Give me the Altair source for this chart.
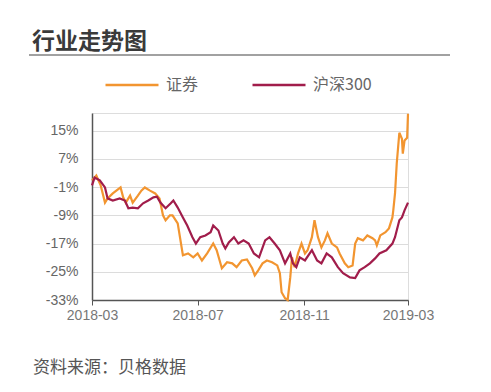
import altair as alt
import pandas as pd

# 证券 series (date, % change)
zq_dates = ["2018-03-01","2018-03-06","2018-03-11","2018-03-16","2018-03-19","2018-03-25",
            "2018-04-03","2018-04-06","2018-04-09","2018-04-14","2018-04-17","2018-04-23",
            "2018-04-27","2018-05-01","2018-05-07","2018-05-13","2018-05-18","2018-05-22",
            "2018-05-25","2018-05-30","2018-06-02","2018-06-08","2018-06-14","2018-06-20",
            "2018-06-26","2018-07-01","2018-07-06","2018-07-12","2018-07-19","2018-07-23",
            "2018-07-29","2018-08-04","2018-08-10","2018-08-15","2018-08-21","2018-08-27",
            "2018-09-02","2018-09-05","2018-09-09","2018-09-14","2018-09-19","2018-09-25",
            "2018-10-01","2018-10-04","2018-10-06","2018-10-10","2018-10-13","2018-10-16",
            "2018-10-18","2018-10-21","2018-10-25","2018-10-29","2018-11-02","2018-11-05",
            "2018-11-10","2018-11-13","2018-11-17","2018-11-21","2018-11-25","2018-11-28",
            "2018-12-03","2018-12-09","2018-12-12","2018-12-18","2018-12-22","2018-12-27",
            "2018-12-30","2019-01-02","2019-01-08","2019-01-13","2019-01-19","2019-01-22",
            "2019-01-24","2019-01-28","2019-02-03","2019-02-07","2019-02-11","2019-02-12",
            "2019-02-14","2019-02-16","2019-02-19","2019-02-22","2019-02-23","2019-02-25",
            "2019-02-28","2019-03-01"]
zq_values = [0.9, 2.3, -0.5, -5.4, -4.2, -2.8,
             -1.1, -3.9, -5.4, -3.4, -5.4, -3.4,
             -2.0, -1.1, -2.0, -2.8, -4.2, -9.0,
             -10.4, -9.0, -9.0, -11.3, -20.3, -19.8,
             -20.9, -19.8, -21.8, -19.8, -17.0, -18.9,
             -24.0, -22.3, -22.6, -23.7, -21.8, -21.5,
             -24.0, -26.0, -24.6, -22.6, -21.8, -22.3,
             -23.2, -25.4, -30.8, -32.5, -33.0, -26.6,
             -20.9, -23.7, -19.8, -17.0, -19.8, -18.9,
             -15.2, -10.4, -15.2, -18.1, -16.1, -14.1,
             -17.0, -18.1, -19.8, -22.6, -23.7, -23.2,
             -17.0, -15.5, -16.1, -14.7, -15.5, -16.1,
             -17.5, -14.7, -13.8, -12.7, -9.6, -7.6,
             -2.8, 5.7, 14.4, 12.7, 8.5, 12.2,
             13.0, 19.8]

# 沪深300 series (date, % change)
hs_dates = ["2018-03-01","2018-03-04","2018-03-10","2018-03-16","2018-03-19","2018-03-25",
            "2018-04-02","2018-04-08","2018-04-12","2018-04-17","2018-04-23","2018-04-29",
            "2018-05-05","2018-05-11","2018-05-15","2018-05-19","2018-05-25","2018-05-31",
            "2018-06-03","2018-06-08","2018-06-14","2018-06-19","2018-06-25","2018-06-29",
            "2018-07-04","2018-07-10","2018-07-16","2018-07-19","2018-07-25","2018-07-30",
            "2018-08-02","2018-08-06","2018-08-12","2018-08-17","2018-08-23","2018-08-29",
            "2018-09-04","2018-09-10","2018-09-17","2018-09-22","2018-09-28","2018-10-04",
            "2018-10-10","2018-10-16","2018-10-19","2018-10-23","2018-10-27","2018-11-02",
            "2018-11-10","2018-11-16","2018-11-21","2018-11-27","2018-12-03","2018-12-10",
            "2018-12-16","2018-12-24","2018-12-30","2019-01-04","2019-01-10","2019-01-16",
            "2019-01-22","2019-01-27","2019-02-04","2019-02-11","2019-02-14","2019-02-19",
            "2019-02-22","2019-02-25","2019-03-01"]
hs_values = [-0.5, 1.7, 0.9, -1.1, -4.2, -4.8,
             -4.2, -4.8, -7.0, -6.8, -7.0, -5.6,
             -4.8, -3.9, -3.7, -5.4, -7.0, -5.6,
             -4.8, -6.8, -9.6, -11.9, -15.2, -17.0,
             -15.2, -14.7, -13.8, -11.9, -13.3, -17.0,
             -18.4, -16.7, -15.2, -17.0, -16.1, -17.0,
             -19.8, -20.9, -16.1, -15.2, -17.0, -18.9,
             -22.6, -19.8, -22.6, -23.7, -20.9, -21.8,
             -18.9, -21.8, -22.6, -19.8, -20.9, -23.7,
             -25.4, -26.6, -26.8, -24.6, -23.7, -22.6,
             -21.2, -19.8, -18.9, -17.0, -15.2, -10.4,
             -9.6, -7.6, -5.4]

series_names = ["证券", "沪深300"]
series_colors = ["#F29530", "#A11D4B"]
y_ticks = [15, 7, -1, -9, -17, -25, -33]

df = pd.concat([
    pd.DataFrame({"date": [d + "T00:00:00" for d in zq_dates], "value": zq_values, "series": "证券"}),
    pd.DataFrame({"date": [d + "T00:00:00" for d in hs_dates], "value": hs_values, "series": "沪深300"}),
])

label_font = "Liberation Sans"
cjk_font = "Noto Sans CJK SC"

lines = alt.Chart(df).mark_line(strokeWidth=2.2).encode(
    x=alt.X("date:T",
            scale=alt.Scale(domain=[alt.DateTime(year=2018, month=3, date=1),
                                    alt.DateTime(year=2019, month=3, date=1)], nice=False),
            axis=alt.Axis(title=None, format="%Y-%m", grid=False,
                          values=[alt.DateTime(year=2018, month=3, date=1),
                                  alt.DateTime(year=2018, month=7, date=1),
                                  alt.DateTime(year=2018, month=11, date=1),
                                  alt.DateTime(year=2019, month=3, date=1)],
                          labelFlush=False, labelAlign="center",
                          domainColor="#555555", domainWidth=1.5, tickColor="#555555",
                          tickSize=5, labelFontSize=14, labelColor="#777777",
                          labelFont=label_font, labelPadding=3)),
    y=alt.Y("value:Q",
            scale=alt.Scale(domain=[-33, 20], nice=False, zero=False),
            axis=alt.Axis(title=None, values=y_ticks, labelExpr="datum.value + '%'",
                          grid=True, gridColor="#dcdcdc", gridWidth=1, ticks=False,
                          domainColor="#555555", domainWidth=1.5, labelFontSize=14,
                          labelColor="#666666", labelFont=label_font, labelPadding=14)),
    color=alt.Color("series:N",
                    scale=alt.Scale(domain=series_names, range=series_colors),
                    sort=series_names,
                    legend=alt.Legend(title=None, orient="none", legendX=12, legendY=-56,
                                      direction="horizontal", symbolType="stroke",
                                      symbolSize=2809, symbolStrokeWidth=2.5,
                                      labelFont=cjk_font, labelFontSize=16,
                                      labelColor="#666666", labelOffset=6,
                                      columnPadding=48, padding=0)),
    order=alt.Order("series:N", sort="descending"),
)

one = pd.DataFrame({"k": [0]})

title_txt = alt.Chart(one).mark_text(
    text="行业走势图", font=cjk_font, fontSize=23, fontWeight="bold",
    color="#3a3a3a", align="left", baseline="alphabetic"
).encode(x=alt.value(-60), y=alt.value(-64))

title_rule = alt.Chart(one).mark_rule(color="#444444", strokeWidth=1.2).encode(
    x=alt.value(-63), x2=alt.value(358), y=alt.value(-58))

footer_txt = alt.Chart(one).mark_text(
    text="资料来源：贝格数据", font=cjk_font, fontSize=17,
    color="#555555", align="left", baseline="alphabetic"
).encode(x=alt.value(-59), y=alt.value(260))

chart = alt.layer(lines, title_txt, title_rule, footer_txt).properties(
    width=316, height=187,
    autosize=alt.AutoSizeParams(type="none"),
    padding={"left": 84, "top": 105, "right": 75, "bottom": 84},
).configure_view(stroke=None).configure(background="white")

chart.save("out.html", embed_options={"renderer": "svg", "actions": False})
